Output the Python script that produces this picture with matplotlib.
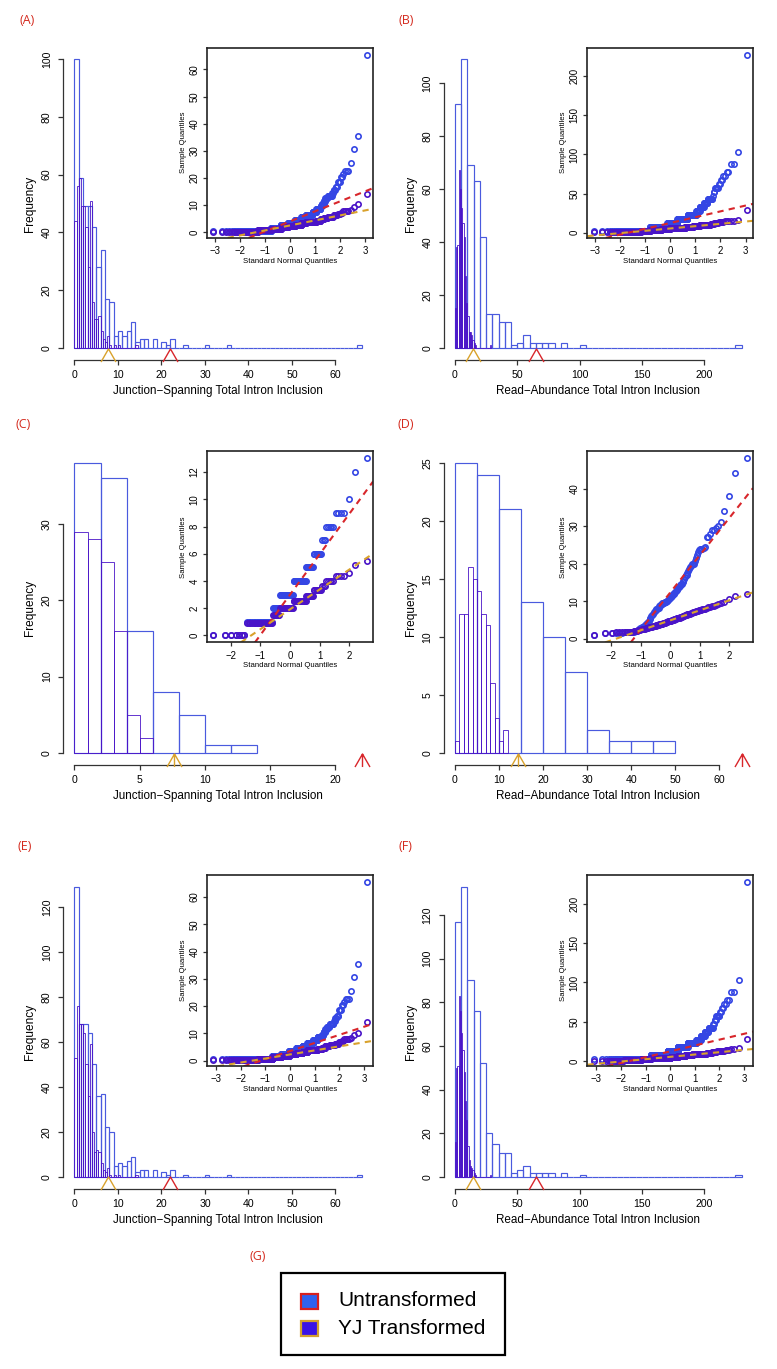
import numpy as np
import matplotlib
matplotlib.use("Agg")
import matplotlib.pyplot as plt
from matplotlib.path import Path
from matplotlib.patches import Rectangle
from matplotlib.ticker import MultipleLocator
from matplotlib.transforms import offset_copy
from statistics import NormalDist

plt.rcParams['font.family'] = ['Liberation Sans', 'DejaVu Sans']

W, H = 777, 1369

# ---------------- data ----------------
# Junction-spanning total intron inclusion, full set (A): unit bins from 0
a_untr = [100, 59, 49, 49, 42, 28, 34, 17, 16, 4, 6, 4, 6, 9, 2, 3, 3, 0, 3, 0,
          2, 1, 3, 0, 0, 1, 0, 0, 0, 0, 1, 0, 0, 0, 0, 1, 0, 0, 0, 0,
          0, 0, 0, 0, 0, 0, 0, 0, 0, 0, 0, 0, 0, 0, 0, 0, 0, 0, 0, 0,
          0, 0, 0, 0, 0, 1]
# YJ transformed, bins of 0.5 from 0
a_yj = [44, 56, 59, 49, 49, 42, 28, 51, 16, 10, 10, 11, 6, 3, 2, 4, 1, 0, 1, 0,
        1, 0, 0, 0, 0, 0, 0, 0, 1]

# Read-abundance total intron inclusion, full set (B): bins of 5 from 0
b_untr = [92, 109, 69, 63, 42, 13, 13, 10, 10, 1,
          2, 5, 2, 2, 2, 2, 0, 2, 0, 0,
          1, 0, 0, 0, 0, 0, 0, 0, 0, 0,
          0, 0, 0, 0, 0, 0, 0, 0, 0, 0,
          0, 0, 0, 0, 0, 1]
# YJ transformed, unit bins from 0
b_yj = [15, 38, 39, 67, 60, 53, 47, 42, 27, 17, 12, 6, 6, 5, 3, 2, 1, 0, 0, 0,
        0, 0, 0, 0, 0, 0, 0, 0, 1]

# Junction-spanning subset (C): observed values and how often each occurs
c_values = [0, 1, 2, 3, 4, 5, 6, 7, 8, 9, 10, 12, 13]
c_yj_values = [0, 0.93, 1.5, 2.0, 2.5, 2.9, 3.3, 3.65, 4.0, 4.35, 4.6, 5.2, 5.5]
c_counts = [7, 22, 9, 19, 17, 8, 8, 3, 5, 4, 1, 1, 1]

# Read-abundance subset (D): sorted sample values
d_untr = [0.9, 1.4, 1.5, 1.5, 1.6, 1.6, 1.7, 1.7, 1.8, 1.8, 1.9, 1.9, 2.0, 2.1,
          2.3, 2.6, 2.8, 3.0, 3.0, 3.3, 3.6, 3.9, 4.1, 4.4, 4.8,
          5.2, 5.6, 6.0, 6.3, 6.6, 7.0, 7.3, 7.7, 7.9, 8.0, 8.1, 8.3, 8.6, 8.9,
          9.0, 9.2, 9.4, 9.5, 9.6, 9.7, 9.8, 9.9, 10.0, 10.0,
          10.4, 10.6, 10.8, 11.0, 11.2, 11.4, 11.6, 11.8, 12.0, 12.2, 12.5,
          12.8, 13.0, 13.2, 13.5, 13.7, 14.0, 14.2, 14.5, 14.7, 15.0,
          15.5, 16.0, 16.5, 17.0, 17.0, 17.5, 18.0, 18.5, 19.0, 19.5, 19.8, 20.0, 20.0,
          20.8, 21.5, 22.3, 23.0, 23.5, 23.9, 24.0, 24.0, 24.1, 24.3,
          27.0, 27.2, 28.0, 29.0, 29.0, 29.5, 30.0,
          31.0, 34.0, 38.0, 44.0, 48.0]
d_yj = [0.9, 1.5, 1.6, 1.7, 1.7, 1.8, 1.8, 1.8, 1.9, 1.9, 1.9, 2.0, 2.0,
        2.1, 2.2, 2.3, 2.4, 2.5, 2.5, 2.6, 2.7, 2.8, 2.8, 2.9, 3.0,
        3.05, 3.1, 3.2, 3.25, 3.3, 3.4, 3.45, 3.5, 3.55, 3.6, 3.7, 3.75, 3.8, 3.85, 3.9, 4.0,
        4.05, 4.1, 4.2, 4.25, 4.3, 4.4, 4.45, 4.5, 4.6, 4.65, 4.7, 4.8, 4.85, 4.9, 5.0,
        5.05, 5.1, 5.2, 5.25, 5.3, 5.4, 5.45, 5.5, 5.6, 5.65, 5.7, 5.8, 5.9, 6.0,
        6.05, 6.1, 6.2, 6.3, 6.4, 6.5, 6.55, 6.6, 6.7, 6.8, 6.9, 7.0,
        7.1, 7.2, 7.3, 7.4, 7.5, 7.6, 7.7, 7.75, 7.8, 7.9, 8.0,
        8.2, 8.4, 8.5, 8.7, 8.8, 9.0,
        9.3, 9.6, 9.9, 10.5, 11.3, 11.9]

# Junction-spanning, second set (E)
e_untr = [129, 68, 68, 64, 50, 36, 37, 22, 20, 5, 6, 5, 7, 9, 2, 3, 3, 0, 3, 0,
          2, 1, 3, 0, 0, 1, 0, 0, 0, 0, 1, 0, 0, 0, 0, 1, 0, 0, 0, 0,
          0, 0, 0, 0, 0, 0, 0, 0, 0, 0, 0, 0, 0, 0, 0, 0, 0, 0, 0, 0,
          0, 0, 0, 0, 0, 1]
e_yj = [53, 76, 68, 68, 64, 50, 36, 59, 20, 11, 12, 11, 6, 3, 2, 4, 1, 0, 1, 0,
        1, 0, 0, 0, 0, 0, 0, 0, 1]

# Read-abundance, second set (F)
f_untr = [117, 133, 90, 76, 52, 20, 15, 11, 11, 2,
          3, 5, 2, 2, 2, 2, 0, 2, 0, 0,
          1, 0, 0, 0, 0, 0, 0, 0, 0, 0,
          0, 0, 0, 0, 0, 0, 0, 0, 0, 0,
          0, 0, 0, 0, 0, 1]
f_yj = [16, 50, 51, 83, 76, 66, 58, 48, 35, 26, 14, 8, 5, 4, 3, 2, 1, 0, 0, 0,
        0, 0, 0, 0, 0, 0, 0, 0, 1]

# threshold arrows under the x axis (YJ, untransformed)
junction_marks = [7.6, 22.0]
read_marks = [14.3, 65.0]

JS_LABEL = 'Junction\u2212Spanning Total Intron Inclusion'
RA_LABEL = 'Read\u2212Abundance Total Intron Inclusion'

# ---------------- styling ----------------
BLUE_BAR = '#4a5ade'
BLUE_PT = '#3446e4'
PURPLE = '#4a14c8'
RED = '#d8262b'
GOLD = '#d9a22c'
TAG_RED = '#d42a1e'
AXC = '#333333'

COLS = [(63, 373), (443.5, 753)]
ROWS = [(47.5, 359.6), (451.4, 764.6), (875, 1188.6)]

fig = plt.figure(figsize=(W / 100, H / 100), dpi=100)


def frac_rect(x0, y0, x1, y1):
    return [x0 / W, 1 - y1 / H, (x1 - x0) / W, (y1 - y0) / H]


def edges_of(start, width, counts):
    return start + width * np.arange(len(counts) + 1)


def mids(edges):
    return (edges[:-1] + edges[1:]) / 2


def r_counts(values, edges):
    # right-closed bins like R's hist()
    idx = np.searchsorted(edges, values, side='left') - 1
    return np.bincount(np.clip(idx, 0, len(edges) - 2), minlength=len(edges) - 1)


def qq_points(sample):
    y = np.sort(np.asarray(sample, float))
    n = len(y)
    a = 3 / 8 if n <= 10 else 0.5
    p = (np.arange(1, n + 1) - a) / (n + 1 - 2 * a)
    z = np.array([NormalDist().inv_cdf(pi) for pi in p])
    return z, y


def qq_line(sample):
    y0, y1 = np.quantile(sample, [0.25, 0.75])
    x0, x1 = NormalDist().inv_cdf(0.25), NormalDist().inv_cdf(0.75)
    slope = (y1 - y0) / (x1 - x0)
    return slope, y0 - slope * x0


def bound_spines(ax, which):
    for name in which:
        axis = ax.xaxis if name == 'bottom' else ax.yaxis
        lo, hi = sorted(ax.get_xlim() if name == 'bottom' else ax.get_ylim())
        ticks = [t for t in axis.get_majorticklocs() if lo - 1e-9 <= t <= hi + 1e-9]
        ax.spines[name].set_bounds(ticks[0], ticks[-1])


chevron = Path([(-1, -0.87), (0, 0.87), (1, -0.87)],
               [Path.MOVETO, Path.LINETO, Path.LINETO])
arrowhead = Path([(-1, -0.87), (0, 0.87), (1, -0.87), (0, 0.87), (0, -0.87)],
                 [Path.MOVETO, Path.LINETO, Path.LINETO, Path.MOVETO, Path.LINETO])


def draw_panel(tag, tag_xy, col, row, xlabel, untr, yj, marks, steps, shaft):
    (eu, cu, su), (ey, cy, sy) = untr, yj
    x0, x1 = COLS[col]
    y0, y1 = ROWS[row]

    # ---- histogram ----
    ax = fig.add_axes(frac_rect(x0, y0, x1, y1))
    ax.set_facecolor('none')
    ax.bar(eu[:-1], cu, width=np.diff(eu), align='edge', fill=False,
           edgecolor=BLUE_BAR, linewidth=0.85)
    ax.bar(ey[:-1], cy, width=np.diff(ey), align='edge', fill=False,
           edgecolor=PURPLE, linewidth=0.6)
    hi = max(eu[-1], max(marks))
    ax.set_xlim(-0.04 * hi, 1.04 * hi)
    ymax = max(max(cu), max(cy))
    ax.set_ylim(-0.04 * ymax, 1.04 * ymax)
    ax.xaxis.set_major_locator(MultipleLocator(steps[0]))
    ax.yaxis.set_major_locator(MultipleLocator(steps[1]))
    for s in ['top', 'right']:
        ax.spines[s].set_visible(False)
    for s in ['left', 'bottom']:
        ax.spines[s].set_color(AXC)
        ax.spines[s].set_linewidth(0.9)
    bound_spines(ax, ['left', 'bottom'])
    ax.tick_params(direction='out', length=3.6, width=0.9, color=AXC,
                   labelsize=7.6, pad=4.2)
    ax.tick_params(axis='y', labelrotation=90, pad=4.4)
    for lab in ax.get_yticklabels():
        lab.set_va('center')
    ax.set_ylabel('Frequency', fontsize=8.6)
    ax.yaxis.set_label_coords(-27 / (x1 - x0), 0.5)
    ax.set_xlabel(xlabel, fontsize=8.4)
    ax.xaxis.set_label_coords(0.5, -25 / (y1 - y0))

    below = offset_copy(ax.transData, fig=fig, x=0, y=-6.5, units='dots')
    for val, colr in zip(marks, [GOLD, RED]):
        ax.plot([val], [0], ls='none', marker=arrowhead if shaft else chevron,
                ms=10.8, mfc='none', mec=colr, mew=1.0, transform=below,
                clip_on=False, zorder=5)

    # ---- QQ inset ----
    ix0 = x0 + 0.465 * (x1 - x0)
    iy1 = y0 + 0.61 * (y1 - y0)
    ai = fig.add_axes(frac_rect(ix0, y0, x1, iy1))
    ai.set_facecolor('white')
    zu, yu = qq_points(su)
    zy, yy = qq_points(sy)
    ai.plot(zu, yu, ls='none', marker='o', ms=3.8, mfc='none', mec=BLUE_PT, mew=1.2)
    ai.plot(zy, yy, ls='none', marker='o', ms=3.8, mfc='none', mec=PURPLE, mew=1.2)
    for smp, colr in [(su, RED), (sy, GOLD)]:
        slope, icpt = qq_line(smp)
        ai.axline((0, icpt), slope=slope, color=colr, lw=1.5, ls=(0, (3, 2.5)))
    zr = zu.max() - zu.min()
    yr = yu.max() - yu.min()
    ai.set_xlim(zu.min() - 0.04 * zr, zu.max() + 0.04 * zr)
    ai.set_ylim(yu.min() - 0.04 * yr, yu.max() + 0.04 * yr)
    ai.xaxis.set_major_locator(MultipleLocator(1))
    ai.yaxis.set_major_locator(MultipleLocator(steps[2]))
    for s in ai.spines.values():
        s.set_color('#222222')
        s.set_linewidth(1.2)
    ai.tick_params(direction='out', length=3.2, width=0.9, color=AXC,
                   labelsize=6.9, pad=2.6)
    ai.tick_params(axis='y', labelrotation=90, pad=2.4)
    for lab in ai.get_yticklabels():
        lab.set_va('center')
    ai.set_xlabel('Standard Normal Quantiles', fontsize=5.6)
    ai.xaxis.set_label_coords(0.5, -20 / (iy1 - y0))
    ai.set_ylabel('Sample Quantiles', fontsize=5.6)
    ai.yaxis.set_label_coords(-20 / (x1 - ix0), 0.5)

    fig.text(tag_xy[0] / W, 1 - tag_xy[1] / H, tag, color=TAG_RED, fontsize=9,
             family=['Open Sans', 'DejaVu Sans'], ha='left', va='center')


def from_hist(start, width, counts):
    e = edges_of(start, width, counts)
    c = np.asarray(counts)
    return e, c, np.repeat(mids(e), c)


def from_sample(sample, edges):
    s = np.asarray(sample, float)
    return edges, r_counts(s, edges), s


c_untr_sample = np.repeat(c_values, c_counts)
c_yj_sample = np.repeat(c_yj_values, c_counts)

draw_panel('(A)', (19, 20), 0, 0, JS_LABEL,
           from_hist(0, 1, a_untr), from_hist(0, 0.5, a_yj),
           junction_marks, (10, 20, 10), False)
draw_panel('(B)', (398, 20), 1, 0, RA_LABEL,
           from_hist(0, 5, b_untr), from_hist(0, 1, b_yj),
           read_marks, (50, 20, 50), False)
draw_panel('(C)', (16, 424), 0, 1, JS_LABEL,
           from_sample(c_untr_sample, np.arange(0, 15, 2.0)),
           from_sample(c_yj_sample, np.arange(0, 7, 1.0)),
           junction_marks, (5, 10, 2), True)
draw_panel('(D)', (397, 424), 1, 1, RA_LABEL,
           from_sample(d_untr, np.arange(0, 51, 5.0)),
           from_sample(d_yj, np.arange(0, 13, 1.0)),
           read_marks, (10, 5, 10), True)
draw_panel('(E)', (17, 847), 0, 2, JS_LABEL,
           from_hist(0, 1, e_untr), from_hist(0, 0.5, e_yj),
           junction_marks, (10, 20, 10), False)
draw_panel('(F)', (398, 847), 1, 2, RA_LABEL,
           from_hist(0, 5, f_untr), from_hist(0, 1, f_yj),
           read_marks, (50, 20, 50), False)

# ---------------- legend (G) ----------------
fig.text(250 / W, 1 - 1257 / H, '(G)', color=TAG_RED, fontsize=9,
         family=['Open Sans', 'DejaVu Sans'], ha='left', va='center')
fig.add_artist(Rectangle((281 / W, 1 - 1355 / H), 224 / W, 82 / H,
                         transform=fig.transFigure, fill=False,
                         edgecolor='black', linewidth=1.6))
legend_items = [('Untransformed', '#2f62ee', '#d8201e', 1301),
                ('YJ Transformed', '#3a12e6', '#d4a02e', 1328)]
for text, fc, ec, yc in legend_items:
    fig.add_artist(Rectangle((301 / W, 1 - (yc + 8) / H), 17 / W, 15 / H,
                             transform=fig.transFigure, facecolor=fc,
                             edgecolor=ec, linewidth=1.6))
    fig.text(338 / W, 1 - yc / H, text, fontsize=15, ha='left', va='center')

fig.savefig('out.png', dpi=100)
